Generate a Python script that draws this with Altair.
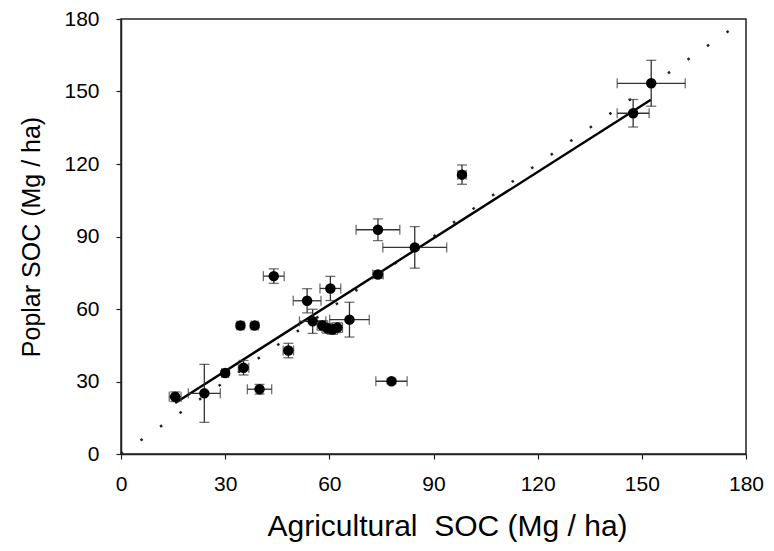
import altair as alt
import pandas as pd

# Data (Mg/ha)
ag_soc  = [152.7, 147.5, 98.2, 74.0, 84.6, 74.0, 60.3, 53.6, 44.0, 55.2, 58.0, 59.4, 60.9, 62.3,
           65.8, 77.9, 48.2, 39.9, 34.4, 38.5, 35.3, 30.0, 24.0, 15.6]
pop_soc = [153.4, 141.0, 115.6, 92.8, 85.5, 74.3, 68.5, 63.4, 73.6, 54.9, 53.2, 52.0, 51.5, 52.3,
           55.6, 30.1, 42.8, 26.8, 53.2, 53.2, 35.7, 33.5, 25.1, 23.7]
ag_err  = [9.8, 4.6, 1.2, 6.3, 9.2, 1.5, 3.0, 4.0, 3.0, 3.8, 1.5, 1.5, 1.5, 1.5,
           5.7, 4.5, 1.5, 3.5, 1.0, 1.0, 1.5, 1.0, 4.6, 1.7]
pop_err = [9.5, 5.7, 4.0, 4.5, 8.6, 1.5, 5.0, 5.0, 3.0, 5.0, 2.0, 2.0, 2.0, 2.0,
           7.2, 1.0, 3.0, 2.0, 1.0, 1.0, 3.0, 1.0, 12.0, 2.0]

reg_x = [15.6, 152.6]
reg_y = [21.1, 146.6]
one_to_one = [0, 180]
ticks = [0, 30, 60, 90, 120, 150, 180]

df = pd.DataFrame({"ag": ag_soc, "pop": pop_soc, "xe": ag_err, "ye": pop_err})
df["xlo"] = df["ag"] - df["xe"]
df["xhi"] = df["ag"] + df["xe"]
df["ylo"] = df["pop"] - df["ye"]
df["yhi"] = df["pop"] + df["ye"]

FONT = "Liberation Sans"
xs = alt.Scale(domain=[0, 180], nice=False, zero=False)
ys = alt.Scale(domain=[0, 180], nice=False, zero=False)

base = alt.Chart(df)

X = alt.X("ag:Q", scale=xs, title="Agricultural\u00a0\u00a0SOC (Mg / ha)",
          axis=alt.Axis(values=ticks, grid=False, tickSize=5, labelPadding=14,
                        titlePadding=17, titleFontSize=30, titleX=326,
                        labelFlush=False))
Y = alt.Y("pop:Q", scale=ys, title="Poplar SOC (Mg / ha)",
          axis=alt.Axis(values=ticks, grid=False, tickSize=5, labelPadding=17,
                        titlePadding=19, titleFontSize=25, labelFlush=False))

diag = alt.Chart(pd.DataFrame({"a": one_to_one})).mark_line(
    color="#222", strokeWidth=2.5, strokeDash=[2.5, 21.3], strokeCap="butt"
).encode(x=alt.X("a:Q", scale=xs), y=alt.Y("a:Q", scale=ys))

reg = alt.Chart(pd.DataFrame({"x": reg_x, "y": reg_y})).mark_line(
    color="black", strokeWidth=2.4
).encode(x=alt.X("x:Q", scale=xs), y=alt.Y("y:Q", scale=ys))

ebx = base.mark_rule(color="#333", strokeWidth=1.3).encode(
    x=alt.X("xlo:Q", scale=xs), x2="xhi:Q", y=alt.Y("pop:Q", scale=ys))
eby = base.mark_rule(color="#333", strokeWidth=1.3).encode(
    x=alt.X("ag:Q", scale=xs), y=alt.Y("ylo:Q", scale=ys), y2="yhi:Q")

cap_l = base.mark_tick(orient="vertical", color="#333", size=10, thickness=1.3).encode(
    x=alt.X("xlo:Q", scale=xs), y=alt.Y("pop:Q", scale=ys))
cap_r = base.mark_tick(orient="vertical", color="#333", size=10, thickness=1.3).encode(
    x=alt.X("xhi:Q", scale=xs), y=alt.Y("pop:Q", scale=ys))
cap_b = base.mark_tick(orient="horizontal", color="#333", size=10, thickness=1.3).encode(
    x=alt.X("ag:Q", scale=xs), y=alt.Y("ylo:Q", scale=ys))
cap_t = base.mark_tick(orient="horizontal", color="#333", size=10, thickness=1.3).encode(
    x=alt.X("ag:Q", scale=xs), y=alt.Y("yhi:Q", scale=ys))

pts = base.mark_circle(color="black", opacity=1, size=110).encode(x=X, y=Y)

chart = alt.layer(diag, reg, ebx, eby, cap_l, cap_r, cap_b, cap_t, pts).properties(
    width=625, height=435,
    autosize=alt.AutoSizeParams(type="none"),
    padding={"left": 113, "top": 11, "right": 18, "bottom": 89},
).configure_view(
    stroke="#222", strokeWidth=1.5
).configure_axis(
    labelFont=FONT, titleFont=FONT, labelFontSize=21,
    labelColor="black", titleColor="black", titleFontWeight="normal",
    domainColor="#222", tickColor="#222", domainWidth=1.5, tickWidth=1.2
)

chart.save("out.html", embed_options={"renderer": "svg", "actions": False})
